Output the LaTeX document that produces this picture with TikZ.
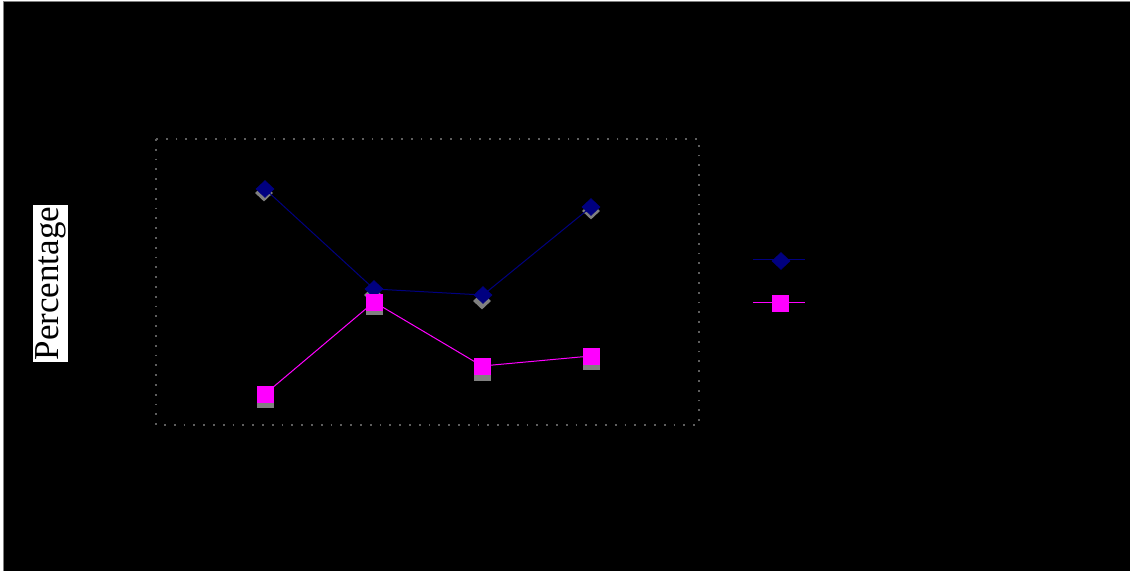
\documentclass[tikz,border=0pt]{standalone}
\usepackage{fontspec}
\setmainfont{Liberation Serif}
\usetikzlibrary{shapes.geometric}
\definecolor{navyc}{HTML}{000080}
\definecolor{magc}{HTML}{FF00FF}
\definecolor{shadc}{HTML}{808080}
\definecolor{dotc}{HTML}{5E5E5E}
\begin{document}
\begin{tikzpicture}[x=1pt,y=-1pt,
  dia/.style={diamond,fill=navyc,draw=navyc,line width=0.6pt,minimum width=18pt,minimum height=17pt,inner sep=0pt},
  diash/.style={diamond,fill=shadc,minimum width=18pt,minimum height=17pt,inner sep=0pt},
  sq/.style={rectangle,fill=magc,draw=magc,line width=0.6pt,minimum size=16pt,inner sep=0pt},
  sqsh/.style={rectangle,fill=shadc,draw=shadc,line width=0.8pt,minimum size=16pt,inner sep=0pt},
  navyline/.style={draw=navyc,line width=1pt},
  magline/.style={draw=magc,line width=1pt},
  plotframe/.style={draw=dotc,line width=1.8pt,dash pattern=on 1.8pt off 8pt}
]
\useasboundingbox (0,0) rectangle (1130,571);
\fill[white] (0,0) rectangle (1130,571);
\fill[black] (3,1) rectangle (1130,571);
\draw[shadc,line width=1pt] (3.5,571) -- (3.5,1.5) -- (1130,1.5);
% plot area
\coordinate (pa) at (156,139);
\coordinate (pb) at (699,425);
\draw[plotframe] (pa) rectangle (pb);
% y label
\node[fill=white,rotate=90,font=\fontsize{35}{35}\selectfont,inner xsep=1.5pt,inner ysep=2.5pt] (ylab) at (50.5,283.5) {Percentage};
% shadows
\node[diash] (as1) at (264,193) {};
\node[diash] (as2) at (373,295) {};
\node[diash] (as3) at (482,301) {};
\node[diash] (as4) at (591,211) {};
\node[sqsh] (bs1) at (265,399) {};
\node[sqsh] (bs2) at (374,306) {};
\node[sqsh] (bs3) at (482,372) {};
\node[sqsh] (bs4) at (591,361) {};
% series lines
\coordinate (a1c) at (265,189);
\coordinate (a2c) at (374,289);
\coordinate (a3c) at (483,295);
\coordinate (a4c) at (591,207);
\coordinate (b1c) at (265,394);
\coordinate (b2c) at (374,302);
\coordinate (b3c) at (482,366);
\coordinate (b4c) at (591,356);
\draw[navyline] (a1c) -- (a2c) -- (a3c) -- (a4c);
\draw[magline] (b1c) -- (b2c) -- (b3c) -- (b4c);
% markers
\node[dia] (a1) at (a1c) {};
\node[dia] (a2) at (a2c) {};
\node[dia] (a3) at (a3c) {};
\node[dia] (a4) at (a4c) {};
\node[sq] (b1) at (b1c) {};
\node[sq] (b2) at (b2c) {};
\node[sq] (b3) at (b3c) {};
\node[sq] (b4) at (b4c) {};
% legend
\coordinate (la1) at (753,259.5);
\coordinate (la2) at (805,259.5);
\coordinate (lb1) at (753,302.5);
\coordinate (lb2) at (805,302.5);
\draw[navyline] (la1) -- (la2);
\draw[magline] (lb1) -- (lb2);
\node[dia] (la) at (781,261) {};
\node[sq] (lb) at (780,303) {};
\end{tikzpicture}
\end{document}
